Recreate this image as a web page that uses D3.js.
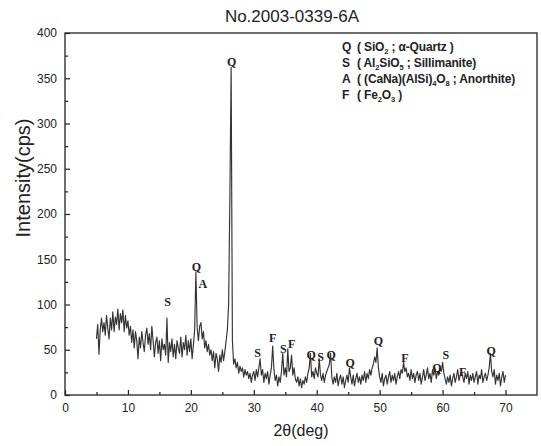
<!DOCTYPE html>
<html><head><meta charset="utf-8">
<script src="https://cdn.jsdelivr.net/npm/d3@7"></script>
<style>body{margin:0;background:#fff}svg{display:block}</style>
</head><body>
<svg id="c" width="541" height="446"></svg>
<script>
// ---- data ----
const chartTitle = "No.2003-0339-6A";
const xLabel = "2θ(deg)";
const yLabel = "Intensity(cps)";
const xTicks = [0,10,20,30,40,50,60,70];
const yTicks = [0,50,100,150,200,250,300,350,400];
const startAngle = 5.0, stepAngle = 0.2;
const intensity = [
  // 5.0 - 9.8
  62,78,45,72,85, 70,80,66,88,74, 62,85,72,92,70, 86,78,95,72,90, 80,94,70,88,74,
  // 10.0 - 14.8
  82,66,76,58,72, 52,70,60,40,64, 52,70,58,48,66, 74,56,68,50,76, 60,42,58,64,46,
  // 15.0 - 19.8
  60,38,62,50,56, 44,85,36,58,48, 62,42,56,40,60, 52,46,64,42,58, 50,66,44,60,48,
  // 20.0 - 24.8
  62,40,55,72,136, 74,60,76,80,62, 70,52,60,48,56, 44,50,38,48,30, 46,40,26,44,36,
  // 25.0 - 29.8
  50,38,48,60,72, 100,220,362,60,34, 40,30,36,24,32, 26,30,20,28,22, 26,18,24,14,22,
  // 30.0 - 34.8
  26,16,28,20,30, 40,22,28,14,24, 18,26,12,22,30, 54,28,16,22,10, 20,14,26,46,22,
  // 35.0 - 39.8
  30,20,51,26,30, 44,22,30,18,14, 20,10,18,8,16, 12,20,14,24,30, 46,20,26,18,30,
  // 40.0 - 44.8
  24,20,40,22,16, 24,14,22,26,30, 34,46,20,12,20, 14,24,10,18,22, 12,20,8,16,22,
  // 45.0 - 49.8
  14,30,20,12,22, 10,18,24,14,20, 12,22,16,26,14, 24,18,28,22,30, 34,42,36,52,30,
  // 50.0 - 54.8
  20,14,24,10,18, 22,12,20,26,14, 22,16,24,12,20, 26,18,28,24,36, 26,30,20,24,16,
  // 55.0 - 59.8
  28,18,24,14,22, 26,16,24,12,20, 28,16,22,30,18, 24,14,28,22,30, 18,26,22,30,26,
  // 60.0 - 64.8
  36,24,18,12,20, 14,22,10,18,24, 14,20,28,16,22, 26,20,14,24,18, 26,12,22,16,24,
  // 65.0 - 69.8
  14,20,26,12,22, 18,28,14,20,24, 16,22,30,46,26, 20,28,12,22,16, 24,10,20,26,14,
  // 70.0
  22
];
const twoTheta = intensity.map((_, i) => +(startAngle + i * stepAngle).toFixed(1));

const peakLetters = ["S","Q","A","Q","S","F","S","F","Q","S","Q","Q","Q","F","Q","S","F","Q"];
const peakAngles  = [16.3,20.9,21.9,26.5,30.6,33.0,34.7,36.0,39.1,40.6,42.3,45.3,49.8,54.0,59.1,60.5,63.2,67.7];
const peakLabelY  = [103,141,123,368,46,63,51,56,44,42,44,35,60,41,30,44,25,49];

const legendKeys = ["Q","S","A","F"];
const legendTexts = [
  [["(  SiO",0],["2",1],[" ; α-Quartz )",0]],
  [["(  Al",0],["2",1],["SiO",0],["5",1],[" ; Sillimanite)",0]],
  [["( (CaNa)(AlSi)",0],["4",1],["O",0],["8",1],[" ; Anorthite)",0]],
  [["(  Fe",0],["2",1],["O",0],["3",1],[" )",0]]
];

// ---- drawing ----
const svg = d3.select("#c");
const x = d3.scaleLinear().domain([0,75]).range([65,537]);
const y = d3.scaleLinear().domain([0,400]).range([395,33]);
const ink = "#222";
const sans = "Arial, 'Liberation Sans', sans-serif";

// minor ticks
svg.append("g").attr("transform",`translate(0,${y(0)})`)
  .call(d3.axisBottom(x).tickValues(xTicks.map(v=>v+5).filter(v=>v<75)).tickSize(-3).tickFormat(""))
  .call(g=>g.select(".domain").remove())
  .call(g=>g.selectAll("line").attr("stroke",ink).attr("stroke-width",1.2));
svg.append("g").attr("transform",`translate(${x(0)},0)`)
  .call(d3.axisLeft(y).tickValues(yTicks.slice(0,-1).map(v=>v+25)).tickSize(-3).tickFormat(""))
  .call(g=>g.select(".domain").remove())
  .call(g=>g.selectAll("line").attr("stroke",ink).attr("stroke-width",1.2));

const xa = svg.append("g").attr("transform",`translate(0,${y(0)})`)
  .call(d3.axisBottom(x).tickValues(xTicks).tickSizeInner(-5).tickSizeOuter(0).tickPadding(8));
const ya = svg.append("g").attr("transform",`translate(${x(0)},0)`)
  .call(d3.axisLeft(y).tickValues(yTicks).tickSizeInner(-5).tickSizeOuter(0).tickPadding(8));
[xa,ya].forEach(g=>{
  g.select(".domain").remove();
  g.selectAll("line").attr("stroke",ink).attr("stroke-width",1.2);
  g.selectAll("text").attr("fill",ink).style("font-family",sans).style("font-size","12px");
});

// data line
svg.append("path")
  .datum(twoTheta.map((t,i)=>[t,intensity[i]]))
  .attr("fill","none").attr("stroke","#333").attr("stroke-width",1.15)
  .attr("stroke-linejoin","round")
  .attr("d", d3.line().x(d=>x(d[0])).y(d=>y(d[1])));

// frame
svg.append("rect").attr("x",x(0)).attr("y",y(400))
  .attr("width",x(75)-x(0)).attr("height",y(0)-y(400))
  .attr("fill","none").attr("stroke",ink).attr("stroke-width",1.3);

// peak labels
svg.append("g").selectAll("text").data(peakLetters).join("text")
  .attr("x",(d,i)=>x(peakAngles[i])).attr("y",(d,i)=>y(peakLabelY[i]))
  .attr("text-anchor","middle").attr("dominant-baseline","central")
  .style("font-family","'Liberation Serif', 'Times New Roman', serif")
  .style("font-weight","bold").style("font-size","12px").attr("fill",ink)
  .text(d=>d);

// legend
const lg = svg.append("g");
legendKeys.forEach((k,i)=>{
  const yy = 47 + i*16;
  lg.append("text").attr("x",342).attr("y",yy).attr("dominant-baseline","central")
    .style("font-family",sans).style("font-weight","bold").style("font-size","12px").attr("fill",ink).text(k);
  const t = lg.append("text").attr("x",357).attr("y",yy).attr("dominant-baseline","central")
    .style("font-family",sans).style("font-weight","bold").style("font-size","12px").attr("fill",ink)
    .attr("letter-spacing","-0.15");
  let prevSub = false;
  legendTexts[i].forEach(([s,sub])=>{
    const sp = t.append("tspan").text(s);
    if (sub) { sp.attr("dy", prevSub ? 0 : 3.5).style("font-size","7.5px"); }
    else if (prevSub) { sp.attr("dy", -3.5); }
    prevSub = !!sub;
  });
});

// title and axis labels
svg.append("text").attr("x",292).attr("y",22).attr("text-anchor","middle")
  .style("font-family",sans).style("font-size","17px").attr("fill",ink).text(chartTitle);
svg.append("text").attr("x",301).attr("y",436).attr("text-anchor","middle")
  .style("font-family",sans).style("font-size","16px").attr("fill",ink).text(xLabel);
svg.append("text").attr("transform","translate(30,178) rotate(-90)").attr("text-anchor","middle")
  .style("font-family",sans).style("font-size","20px").attr("fill",ink).text(yLabel);
</script>
</body></html>
